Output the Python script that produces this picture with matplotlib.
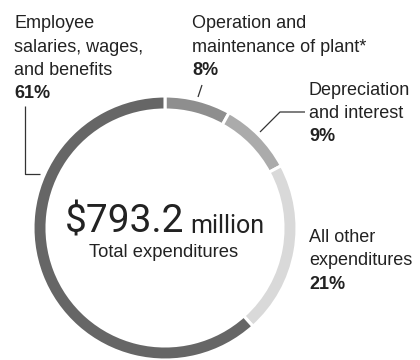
import matplotlib.pyplot as plt

# Expenditure breakdown, clockwise from 12 o'clock
categories = ["Operation and\nmaintenance of plant*", "Depreciation\nand interest",
              "All other\nexpenditures", "Employee\nsalaries, wages,\nand benefits"]
shares = [8, 9, 21, 61]
share_labels = ["8%", "9%", "21%", "61%"]
colors = ["#8e8e8e", "#ababab", "#d9d9d9", "#666666"]
total_value = "$793.2"
total_unit = "million"
total_caption = "Total expenditures"

W, H = 420, 360
TEXT = "#222222"
FONT = "Liberation Sans"


def py(y):
    # pixel rows from the top -> data y
    return H - y


def label_block(x, baselines, text, pct):
    lines = text.split("\n")
    for line, b in zip(lines, baselines):
        ax.text(x, py(b), line, fontsize=13, color=TEXT, family=FONT,
                ha="left", va="baseline")
    ax.text(x, py(baselines[len(lines)]), pct, fontsize=13, color=TEXT,
            family=FONT, fontweight="bold", ha="left", va="baseline")


fig = plt.figure(figsize=(W / 100, H / 100), dpi=100)
ax = fig.add_axes([0, 0, 1, 1])

cx, cy, r = 165, py(228), 132
ax.pie(shares, colors=colors, startangle=90, counterclock=False,
       center=(cx, cy), radius=r, frame=True,
       wedgeprops=dict(width=14, edgecolor="white", linewidth=2.2))
ax.set_xlim(0, W)
ax.set_ylim(0, H)
ax.set_aspect("equal")
ax.axis("off")

# centre text
ax.text(184, py(233), total_value, fontsize=28, color=TEXT, family="Roboto",
        ha="right", va="baseline")
ax.text(190, py(233), total_unit, fontsize=18, color=TEXT, family="Roboto",
        ha="left", va="baseline")
ax.text(164, py(257), total_caption, fontsize=13.2, color=TEXT, family=FONT,
        ha="center", va="baseline")

# category labels
label_block(192, [28, 52, 75], categories[0], share_labels[0])
label_block(309, [95, 118, 141], categories[1], share_labels[1])
label_block(309, [242, 265, 289], categories[2], share_labels[2])
label_block(14, [28, 51.5, 75, 98.5], categories[3], share_labels[3])

# leader lines
lk = dict(color="#333333", lw=0.9, solid_capstyle="butt")
ax.plot([25, 25, 40], [py(106), py(174), py(174)], **lk)
ax.plot([198, 202], [py(97), py(85)], **lk)
ax.plot([260, 280, 305], [py(132), py(112), py(112)], **lk)

fig.savefig("out.png", dpi=100, facecolor="white")
